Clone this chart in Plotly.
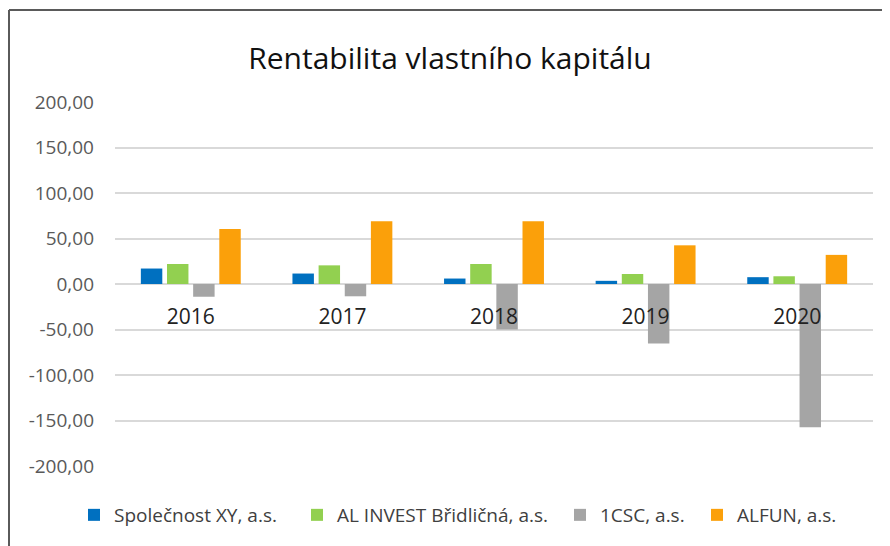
import plotly.graph_objects as go

years = ["2016", "2017", "2018", "2019", "2020"]
series_names = ["Společnost XY, a.s.", "AL INVEST Břidličná, a.s.", "1CSC, a.s.", "ALFUN, a.s."]
spolecnost_xy = [17.0, 11.5, 6.0, 3.5, 7.5]
al_invest = [22.0, 20.5, 22.0, 11.0, 8.5]
csc = [-14.0, -13.5, -50.0, -65.5, -157.5]
alfun = [60.5, 69.0, 69.0, 42.5, 32.0]
series_values = [spolecnost_xy, al_invest, csc, alfun]
colors = ["#0070C0", "#92D050", "#A5A5A5", "#FBA00A"]
y_ticks = [-200, -150, -100, -50, 0, 50, 100, 150, 200]
y_tick_labels = ["-200,00", "-150,00", "-100,00", "-50,00", "0,00", "50,00", "100,00", "150,00", "200,00"]

# page is offset by the 8px body margin
OFF = 8
W, H = 890, 546
L, T = 115 - OFF, 102 - OFF
pw, ph = 758, 364
R = W - L - pw
B = H - T - ph
FONT = "Open Sans"

def px_x(p):
    return (p - OFF - L) / pw

def px_y(p):
    return (H - B - (p - OFF)) / ph

def cx(p):
    return (p - OFF) / W

def cy(p):
    return 1 - (p - OFF) / H

legend_keys = ["legend", "legend2", "legend3", "legend4"]
legend_square_left = [89, 312, 575, 712]

fig = go.Figure()
for name, vals, col, lk in zip(series_names, series_values, colors, legend_keys):
    fig.add_trace(go.Bar(x=years, y=vals, name=name, legend=lk, showlegend=True,
                         marker=dict(color=col, line=dict(width=0))))

legend_common = dict(orientation="h", xanchor="left", yanchor="middle",
                     font=dict(size=19, color="#404040", family=FONT), itemwidth=30,
                     bgcolor="rgba(0,0,0,0)")
legends = {}
for lk, sx in zip(legend_keys, legend_square_left):
    legends[lk] = dict(x=px_x(sx - 15), y=px_y(515), **legend_common)

fig.update_layout(
    width=W, height=H,
    margin=dict(l=L, r=R, t=T, b=B),
    paper_bgcolor="white", plot_bgcolor="white",
    showlegend=True,
    barmode="group", bargap=0.31, bargroupgap=0.18,
    font=dict(family=FONT, color="#595959"),
    title=dict(text="Rentabilita vlastního kapitálu", x=cx(450), xanchor="center",
               y=cy(58), yanchor="middle", font=dict(size=30, color="#111111", family=FONT)),
    xaxis=dict(anchor="free", position=0.5, showgrid=False, showline=False, ticks="",
               tickfont=dict(size=21, color="#222222"), ticklabelstandoff=18),
    yaxis=dict(range=[-200, 200], tickvals=y_ticks, ticktext=y_tick_labels,
               showgrid=True, gridcolor="#D9D9D9", gridwidth=1.5,
               zeroline=True, zerolinecolor="#D9D9D9", zerolinewidth=2,
               tickfont=dict(size=19, color="#595959"), ticklabelstandoff=20),
    shapes=[
        dict(type="line", xref="paper", yref="paper", x0=px_x(9), x1=px_x(900), y0=px_y(10), y1=px_y(10),
             line=dict(color="#5A5A5A", width=2)),
        dict(type="line", xref="paper", yref="paper", x0=px_x(9), x1=px_x(9), y0=px_y(10), y1=px_y(560),
             line=dict(color="#5A5A5A", width=2)),
    ],
    **legends,
)

fig.write_html("out.html")
